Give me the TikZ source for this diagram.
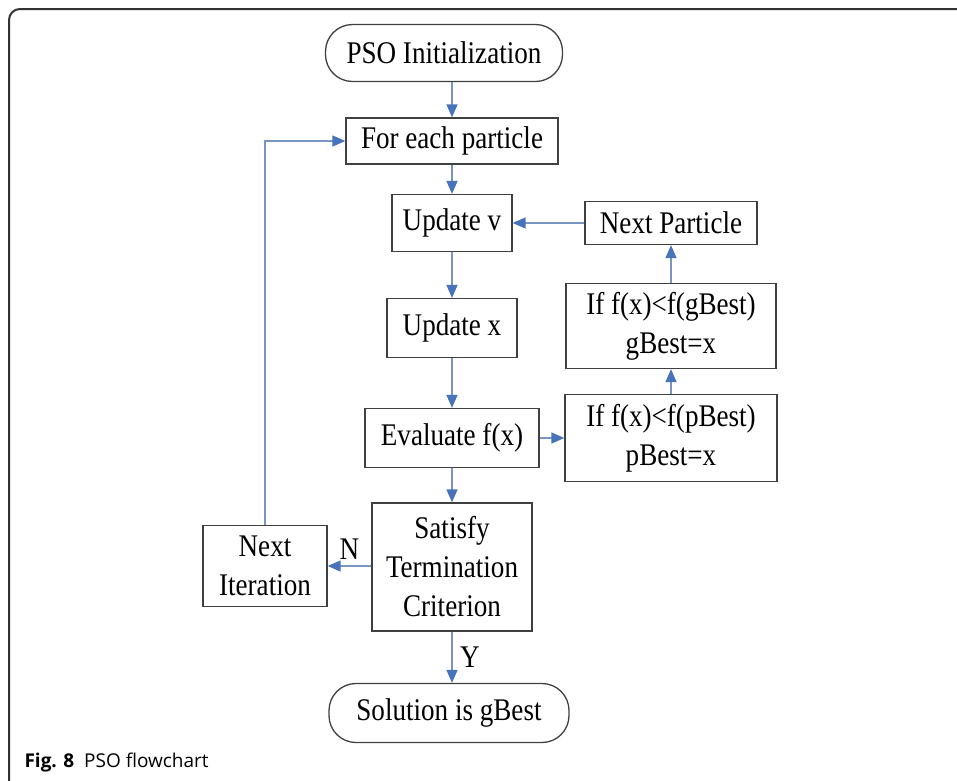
\documentclass[tikz,border=0pt]{standalone}
\usepackage{fontspec}
\setmainfont{Liberation Serif}[FakeStretch=0.86]
\newfontfamily\capfont{Open Sans}
\usetikzlibrary{arrows.meta, positioning}
\definecolor{linkblue}{RGB}{120,150,195}
\definecolor{tipblue}{RGB}{70,115,185}

\begin{document}
\begin{tikzpicture}[x=1pt, y=-1pt,
    box/.style={draw=black!75, line width=1.3pt, inner sep=0pt, align=center,
        font=\fontsize{31.5}{39}\selectfont},
    term/.style={box, rounded corners=27pt},
    link/.style={draw=linkblue, line width=1.4pt,
        -{Triangle[length=13pt, width=11pt, color=tipblue]}},
    lbl/.style={font=\fontsize{31.5}{34}\selectfont}]
                % Define the page and the frame
                \useasboundingbox (0,0) rectangle (957,780);
                \draw[black!80, line width=2pt, rounded corners=11pt] (970,9) -- (9,9) -- (9,790); % frame, open to the right and below

                % Main column of boxes
                \node[term, minimum width=237pt, minimum height=57pt] (init) at (444,53) {PSO Initialization};
                \node[box, minimum width=212pt, minimum height=46pt] (each) at (452,141) {For each particle};
                \node[box, minimum width=120pt, minimum height=57pt] (updv) at (452,223) {Update v};
                \node[box, minimum width=130pt, minimum height=59pt] (updx) at (452,328) {Update x};
                \node[box, minimum width=174pt, minimum height=59pt] (eval) at (452,438) {Evaluate f(x)};
                \node[box, minimum width=160pt, minimum height=128pt] (crit) at (452,567) {Satisfy\\Termination\\Criterion};
                \node[term, minimum width=240pt, minimum height=59pt] (sol) at (449,713) {Solution is gBest};

                % Side boxes
                \node[box, minimum width=124pt, minimum height=81pt] (nextit) at (265,566) {Next\\Iteration};
                \node[box, minimum width=172pt, minimum height=43pt] (nextp) at (671,223) {Next Particle};
                \node[box, minimum width=210pt, minimum height=85pt] (gbest) at (671,326) {If f(x)<f(gBest)\\gBest=x};
                \node[box, minimum width=212pt, minimum height=87pt] (pbest) at (671,438) {If f(x)<f(pBest)\\pBest=x};

                % Connectors
                \draw[link] (init.south -| each.north) -- (each);
                \draw[link] (each) -- (updv);
                \draw[link] (updv) -- (updx);
                \draw[link] (updx) -- (eval);
                \draw[link] (eval) -- (crit);
                \draw[link] (crit) -- node[lbl, right=4pt] {Y} (crit.south |- sol.north);
                \draw[link] (crit.west |- nextit.east) -- node[lbl, above=2pt] {N} (nextit);
                \draw[link] (nextit.north) |- (each.west); % back to the start of the loop
                \draw[link] (eval) -- (pbest);
                \draw[link] (pbest) -- (gbest);
                \draw[link] (gbest) -- (nextp);
                \draw[link] (nextp) -- (updv);

                % Caption
                \node[anchor=west, font=\capfont\fontsize{19}{21}\selectfont] (cap) at (21,762) {\textbf{Fig. 8}\ \ PSO flowchart};

            \end{tikzpicture}
\end{document}
